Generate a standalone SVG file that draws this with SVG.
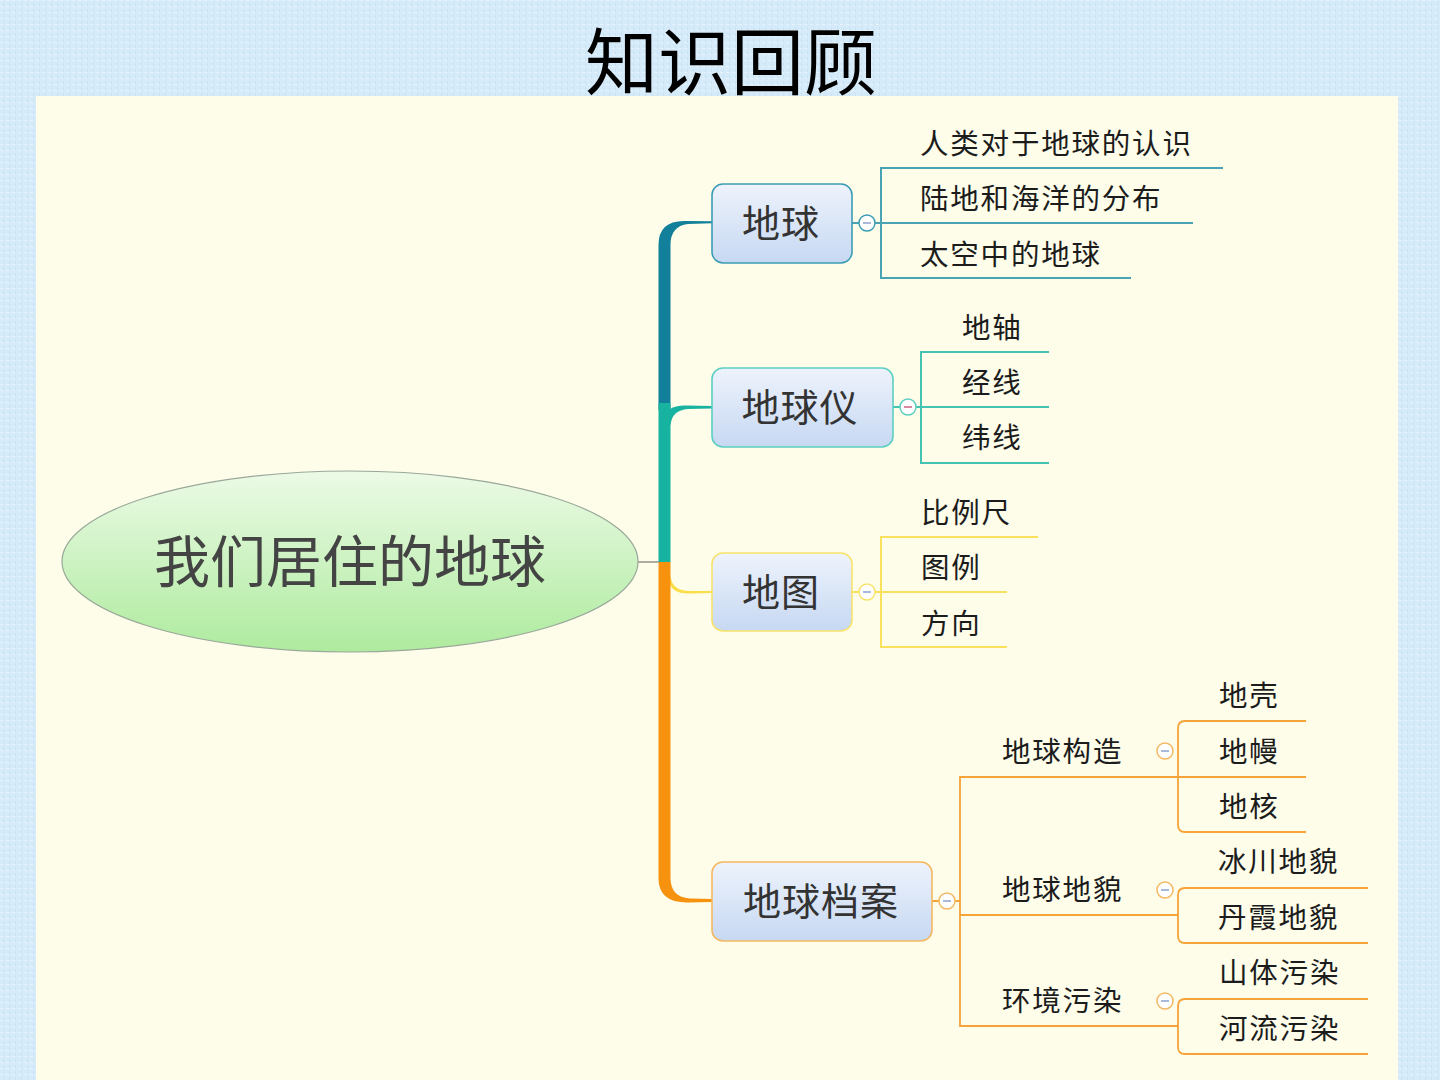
<svg xmlns="http://www.w3.org/2000/svg" width="1440" height="1080" viewBox="0 0 1440 1080">
<defs>
<linearGradient id="boxg" x1="0" y1="0" x2="0" y2="1">
<stop offset="0" stop-color="#eef3fc"/>
<stop offset="1" stop-color="#c6d8f2"/>
</linearGradient>
<linearGradient id="rootg" x1="0" y1="0" x2="0" y2="1">
<stop offset="0" stop-color="#ecfae6"/>
<stop offset="1" stop-color="#aeeb9e"/>
</linearGradient>
<pattern id="tex" width="6" height="6" patternUnits="userSpaceOnUse">
<rect width="6" height="6" fill="#d6ebf9"/>
<rect x="0" y="0" width="3" height="1" fill="#e6f3fc"/>
<rect x="3" y="3" width="1" height="3" fill="#c8e2f4"/>
</pattern>
<style>
.t{font-family:"Noto Sans CJK SC","Noto Sans",sans-serif;fill:#1c1c1c;dominant-baseline:central}
.sub{font-size:28.5px;letter-spacing:1.8px}
.main{font-size:38px;fill:#333;text-anchor:middle;letter-spacing:1px}
.box{stroke-width:1.6}
.cc{fill:#ffffff;stroke-width:1.5}
.minus{stroke:#a9b9d8;stroke-width:2}
.ln{fill:none}
</style>
</defs>
<rect width="1440" height="1080" fill="url(#tex)"/>
<rect x="36" y="96" width="1362" height="984" fill="#fdfdea"/>
<text x="731" y="57" class="t" style="font-size:73px;text-anchor:middle;fill:#000">知识回顾</text>

<g id="connectors">
<line x1="638" y1="562" x2="664" y2="562" stroke="#777" stroke-width="1.2"/>
<path d="M658.5 410 L658.5 245 Q658.5 220 686 221 L712 221.3 L712 223.3 L688 224 Q670.5 226 670.5 245 L670.5 410 Z" fill="#12809a"/>
<path d="M658.5 403 L670.5 403 L670.5 562 L658.5 562 Z" fill="#17b3a0"/>
<path d="M664 420 Q666 405 686 405.6 L712 406 L712 408.5 L688 409 Q672 410 670.5 425 Z" fill="#17b3a0"/>
<path d="M670.5 576 Q672 591 690 591 L712 591 L712 593 L690 593.5 Q670 594 669 580 Z" fill="#fbde4a"/>
<path d="M658.5 562 L670.5 562 L670.5 878 Q670.5 897 690 898.5 L712 899 L712 902 L688 902.5 Q658.5 903 658.5 878 Z" fill="#f7920e"/>

<g class="ln" stroke="#4aa3b4" stroke-width="2">
<path d="M852 223 L859 223 M875 223 L1193 223"/>
<path d="M1223 168 L881 168 L881 278 L1131 278"/>
</g>
<g class="ln" stroke="#44c2b2" stroke-width="2">
<path d="M893 407 L900 407 M916 407 L1049 407"/>
<path d="M1049 352 L921 352 L921 463 L1049 463"/>
</g>
<g class="ln" stroke="#f9e15e" stroke-width="2">
<path d="M852 592 L859 592 M875 592 L1007 592"/>
<path d="M1038 537 L881 537 L881 647 L1007 647"/>
</g>
<g class="ln" stroke="#f6a33a" stroke-width="1.8">
<path d="M932 901 L939 901 M955 901 L960 901"/>
<path d="M1178 777 L960 777 L960 1026 L1178 1026"/>
<path d="M960 915 L1178 915"/>
<path d="M1306 721 L1185 721 Q1178 721 1178 728 L1178 825 Q1178 832 1185 832 L1306 832"/>
<path d="M1178 777 L1306 777"/>
<path d="M1368 888 L1185 888 Q1178 888 1178 895 L1178 936 Q1178 943 1185 943 L1368 943"/>
<path d="M1368 999 L1185 999 Q1178 999 1178 1006 L1178 1047 Q1178 1054 1185 1054 L1368 1054"/>
</g>
</g>

<g id="root">
<ellipse cx="350" cy="561.5" rx="288" ry="90.5" fill="url(#rootg)" stroke="#9aa89a" stroke-width="1.2"/>
<text x="350" y="557" class="t" style="font-size:56px;text-anchor:middle;fill:#444">我们居住的地球</text>
</g>

<g id="n-diqiu">
<rect x="712" y="184" width="140" height="79" rx="11" fill="url(#boxg)" stroke="#3b9db4" class="box"/>
<text x="781" y="220" class="t main">地球</text>
<circle cx="867" cy="223" r="8" class="cc" stroke="#3b9db4"/>
<line x1="863" y1="223" x2="871" y2="223" class="minus"/>
</g>
<g id="n-diqiuyi">
<rect x="712" y="368" width="181" height="79" rx="11" fill="url(#boxg)" stroke="#5ccfc1" class="box"/>
<text x="800" y="404" class="t main">地球仪</text>
<circle cx="908" cy="407" r="8" class="cc" stroke="#5ccfc1"/>
<line x1="904" y1="407" x2="912" y2="407" class="minus" style="stroke:#d88aa0"/>
</g>
<g id="n-ditu">
<rect x="712" y="553" width="140" height="78" rx="11" fill="url(#boxg)" stroke="#f8e36a" class="box"/>
<text x="781" y="589" class="t main">地图</text>
<circle cx="867" cy="592" r="8" class="cc" stroke="#f8e36a"/>
<line x1="863" y1="592" x2="871" y2="592" class="minus"/>
</g>
<g id="n-dangan">
<rect x="712" y="862" width="220" height="79" rx="11" fill="url(#boxg)" stroke="#f5b862" class="box"/>
<text x="821" y="898" class="t main">地球档案</text>
<circle cx="947" cy="901" r="8" class="cc" stroke="#f5b862"/>
<line x1="943" y1="901" x2="951" y2="901" class="minus"/>
</g>

<g id="n-s1"><text x="920" y="141" class="t sub">人类对于地球的认识</text></g>
<g id="n-s2"><text x="920" y="196" class="t sub">陆地和海洋的分布</text></g>
<g id="n-s3"><text x="920" y="252" class="t sub">太空中的地球</text></g>

<g id="n-y1"><text x="962" y="325" class="t sub">地轴</text></g>
<g id="n-y2"><text x="962" y="380" class="t sub">经线</text></g>
<g id="n-y3"><text x="962" y="435" class="t sub">纬线</text></g>

<g id="n-m1"><text x="921" y="510" class="t sub">比例尺</text></g>
<g id="n-m2"><text x="921" y="565" class="t sub">图例</text></g>
<g id="n-m3"><text x="921" y="621" class="t sub">方向</text></g>

<g id="n-gouzao">
<text x="1002" y="749" class="t sub">地球构造</text>
<circle cx="1165" cy="751" r="8" class="cc" stroke="#f5b862"/>
<line x1="1161" y1="751" x2="1169" y2="751" class="minus"/>
</g>
<g id="n-dimao">
<text x="1002" y="887" class="t sub">地球地貌</text>
<circle cx="1165" cy="890" r="8" class="cc" stroke="#f5b862"/>
<line x1="1161" y1="890" x2="1169" y2="890" class="minus"/>
</g>
<g id="n-wuran">
<text x="1002" y="998" class="t sub">环境污染</text>
<circle cx="1165" cy="1001" r="8" class="cc" stroke="#f5b862"/>
<line x1="1161" y1="1001" x2="1169" y2="1001" class="minus"/>
</g>

<g id="n-k1"><text x="1219" y="693" class="t sub">地壳</text></g>
<g id="n-k2"><text x="1219" y="749" class="t sub">地幔</text></g>
<g id="n-k3"><text x="1219" y="804" class="t sub">地核</text></g>
<g id="n-d1"><text x="1218" y="859" class="t sub">冰川地貌</text></g>
<g id="n-d2"><text x="1218" y="915" class="t sub">丹霞地貌</text></g>
<g id="n-w1"><text x="1219" y="970" class="t sub">山体污染</text></g>
<g id="n-w2"><text x="1219" y="1026" class="t sub">河流污染</text></g>
</svg>
